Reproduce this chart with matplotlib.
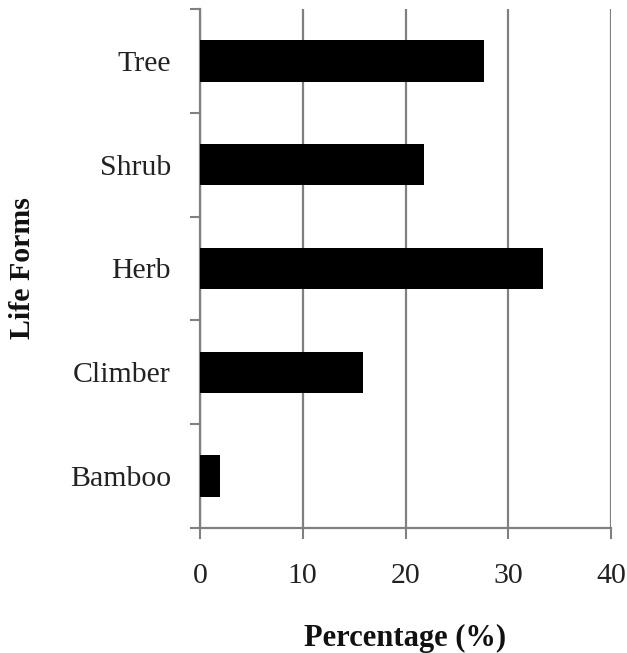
import matplotlib
matplotlib.use("Agg")
import matplotlib.pyplot as plt
import numpy as np

categories = ["Tree", "Shrub", "Herb", "Climber", "Bamboo"]
values = [27.6, 21.8, 33.4, 15.9, 1.9]
xticks = [0, 10, 20, 30, 40]

plt.rcParams['font.family'] = ['Liberation Serif', 'DejaVu Serif']

fig = plt.figure(figsize=(6.27, 6.53), dpi=100)
ax = fig.add_axes([200/627, 1-528/653, 411/627, 519/653])

n = len(categories)
ypos = np.arange(n)[::-1]
ax.barh(ypos, values, height=0.4, color="black", zorder=3)

ax.set_xlim(0, 40)
ax.set_ylim(-0.5, n - 0.5)
ax.set_xticks(xticks)
ax.set_xticklabels([str(t) for t in xticks], fontsize=21.5, color="#222222")
ax.set_yticks(ypos)
ax.set_yticklabels(categories, fontsize=21.5, color="#222222")
ax.tick_params(axis='y', which='major', length=0, pad=21)
ax.set_yticks(np.arange(-0.5, n, 1.0), minor=True)
ax.tick_params(axis='y', which='minor', length=7, width=1.5, color="#808080", direction='out')
ax.tick_params(axis='x', which='major', length=8, width=1.5, color="#808080", direction='out', pad=17)

ax.grid(axis='x', color="#808080", linewidth=1.6, zorder=0)
for s in ['top', 'right']:
    ax.spines[s].set_visible(False)
for s in ['left', 'bottom']:
    ax.spines[s].set_color("#808080")
    ax.spines[s].set_linewidth(1.6)

ax.set_xlabel("Percentage (%)", fontsize=22, fontweight='bold', labelpad=25, color="#111111")
ax.set_ylabel("Life Forms", fontsize=21.5, fontweight='bold', labelpad=24, color="#111111")

fig.savefig("out.png", dpi=100, facecolor="white")
